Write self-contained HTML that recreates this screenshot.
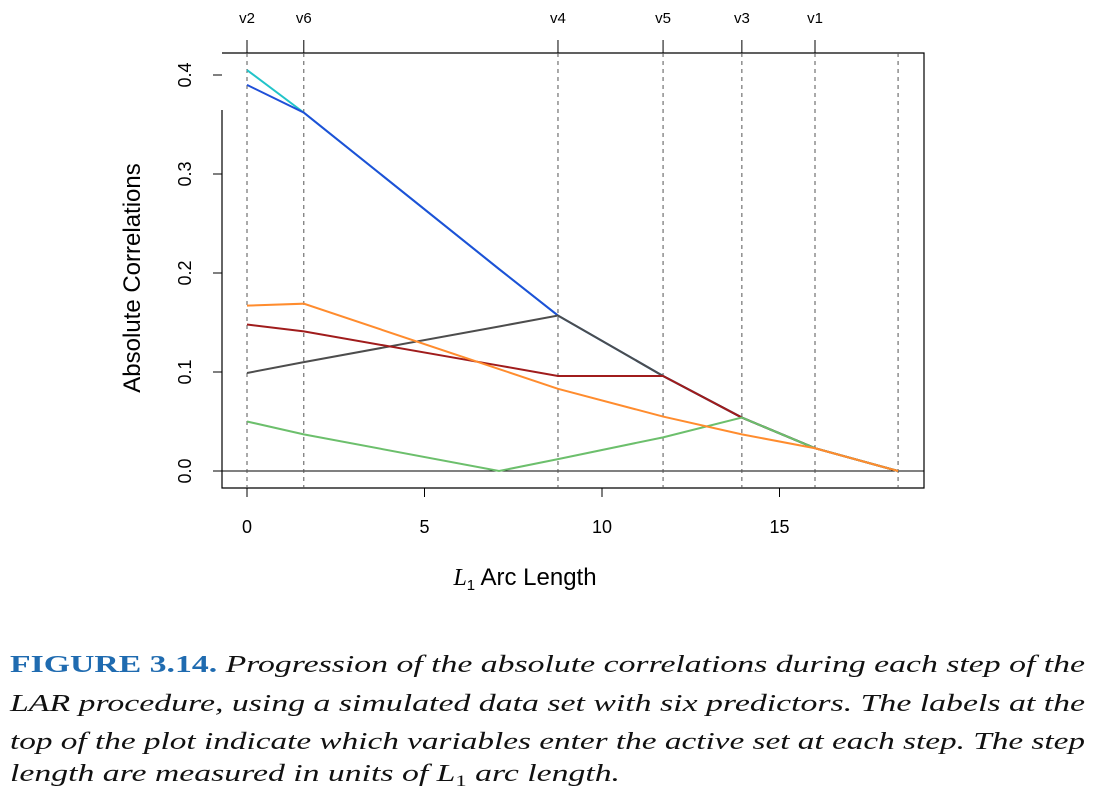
<!DOCTYPE html>
<html><head><meta charset="utf-8"><style>
html,body{margin:0;padding:0;background:#fff;}
svg text{font-family:"Liberation Sans",sans-serif;}
.cap{font-family:"Liberation Serif",serif;font-style:italic;font-size:24px;fill:#111;}
</style></head><body>
<svg width="1096" height="792" viewBox="0 0 1096 792">
<g id="plot"></g>
<text class="cap" x="10" y="672" textLength="1075" lengthAdjust="spacingAndGlyphs"><tspan style="font-style:normal;font-weight:bold;fill:#1f6bb0">FIGURE 3.14.</tspan> Progression of the absolute correlations during each step of the</text>
<text class="cap" x="10" y="711" textLength="1075" lengthAdjust="spacingAndGlyphs">LAR procedure, using a simulated data set with six predictors. The labels at the</text>
<text class="cap" x="10" y="749" textLength="1075" lengthAdjust="spacingAndGlyphs">top of the plot indicate which variables enter the active set at each step. The step</text>
<text class="cap" x="10" y="781" textLength="610" lengthAdjust="spacingAndGlyphs">length are measured in units of <tspan>L</tspan><tspan font-size="16" dy="5" style="font-style:normal">1</tspan><tspan dy="-5"> arc length.</tspan></text>
</svg>
<script>
const steps=[0,1.6,8.76,11.72,13.94,16.0,18.34];
const stepLabels=["v2","v6","v4","v5","v3","v1",""];
const xTicks=[0,5,10,15];
const yTicks=[0,0.1,0.2,0.3,0.4];
const seriesX=[0,1.6,7.1,8.76,11.72,13.94,16.0,18.34];
const cyanVals=[0.405,0.362,0.204,0.157,0.096,0.054,0.023,0];
const blueVals=[0.39,0.362,0.204,0.157,0.096,0.054,0.023,0];
const grayVals=[0.099,0.11,0.146,0.157,0.096,0.054,0.023,0];
const redVals=[0.148,0.141,0.1065,0.096,0.096,0.054,0.023,0];
const greenVals=[0.05,0.037,0,0.012,0.034,0.054,0.023,0];
const orangeVals=[0.167,0.169,0.103,0.083,0.055,0.037,0.023,0];
const NS="http://www.w3.org/2000/svg";
const g=document.getElementById('plot');
const X=v=>247+v*35.5, Y=v=>471-v*990;
function mk(t,a){const e=document.createElementNS(NS,t);for(const k in a)e.setAttribute(k,a[k]);g.appendChild(e);return e;}
let e;
e=mk('path',{d:'M222,110 V488 H924 V53 H222',fill:'none',stroke:'#000','stroke-width':1.2});


e=mk('line',{x1:222,x2:924,y1:Y(0),y2:Y(0),stroke:'#000','stroke-width':1});


steps.forEach((s,i)=>{
 e=mk('line',{x1:X(s),x2:X(s),y1:53,y2:488,stroke:'#555','stroke-dasharray':'4,4','stroke-width':1});
 
 
 if(stepLabels[i]){
  e=mk('line',{x1:X(s),x2:X(s),y1:40,y2:53,stroke:'#000'});
  
  
  e=mk('text',{x:X(s),y:23,'text-anchor':'middle','font-size':15});e.textContent=stepLabels[i];
  
  
 }
});
xTicks.forEach(t=>{
 e=mk('line',{x1:X(t),x2:X(t),y1:488,y2:497,stroke:'#000'});
 
 
 e=mk('text',{x:X(t),y:533,'text-anchor':'middle','font-size':18});e.textContent=t;
 
 
});
yTicks.forEach(t=>{
 e=mk('line',{x1:213,x2:222,y1:Y(t),y2:Y(t),stroke:'#000'});
 
 
 e=mk('text',{x:0,y:0,'text-anchor':'middle','font-size':18,transform:`translate(191,${Y(t)}) rotate(-90)`});e.textContent=t.toFixed(1);
 
 
});
e=mk('text',{x:0,y:0,'text-anchor':'middle','font-size':24,transform:'translate(140,278) rotate(-90)'});e.textContent='Absolute Correlations';


e=mk('text',{x:525,y:585,'text-anchor':'middle','font-size':24});
e.innerHTML='<tspan font-family="Liberation Serif" font-style="italic">L</tspan><tspan font-size="15" dy="5">1</tspan><tspan dy="-5"> Arc Length</tspan>';


const series=[[cyanVals,'#22c4c9','series-v2'],[blueVals,'#1f4fd8','series-v6'],[grayVals,'#4d4d4d','series-v4'],[redVals,'#a01c1c','series-v5'],[greenVals,'#6cbf6c','series-v3'],[orangeVals,'#ff8c2e','series-v1']];
series.forEach(([v,c,n])=>{
 const pts=v.map((y,i)=>X(seriesX[i])+','+Y(y)).join(' ');
 e=mk('polyline',{points:pts,fill:'none',stroke:c,'stroke-width':2});
 
 
});
</script>
</body></html>
